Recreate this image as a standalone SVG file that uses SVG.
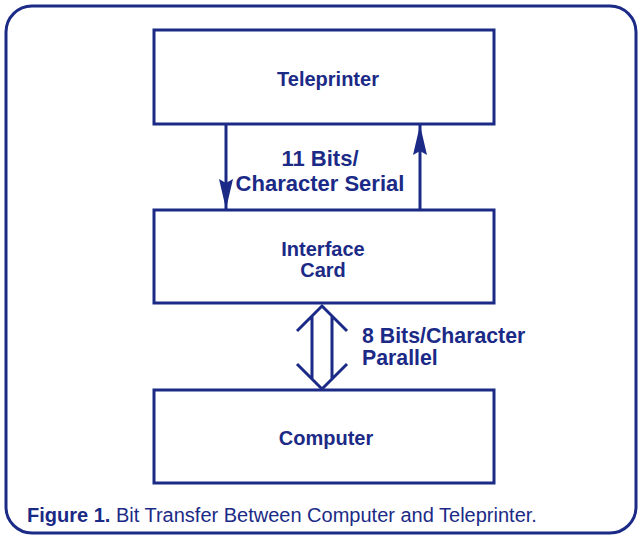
<svg xmlns="http://www.w3.org/2000/svg" width="640" height="537" viewBox="0 0 640 537">
<style>
.b{fill:#fff;stroke:#1b2a86;stroke-width:3}
.t{font-family:"Liberation Sans",Arial,sans-serif;font-weight:bold;font-size:20px;fill:#1b2a86}
.t2{font-size:22px}
.t3{font-size:21.3px}
.c{font-family:"Liberation Sans",Arial,sans-serif;font-size:20px;fill:#1b2a86}
.l{fill:none;stroke:#1b2a86;stroke-width:3}
</style>
<defs>
<marker id="ah" viewBox="0 0 30 14" refX="30" refY="7" markerWidth="30" markerHeight="14" markerUnits="userSpaceOnUse" orient="auto">
<path d="M0,0 L30,7 L0,14 L4,7 Z" fill="#1b2a86"/>
</marker>
</defs>
<rect width="640" height="537" fill="#fff"/>
<rect x="6" y="6" width="630" height="527" rx="26" class="l"/>
<g id="teleprinter"><rect x="154" y="30" width="340" height="94" class="b"/><text x="328" y="86" text-anchor="middle" class="t">Teleprinter</text></g>
<g id="interface"><rect x="154" y="210" width="340" height="93" class="b"/><text x="323" y="256" text-anchor="middle" class="t">Interface</text><text x="323" y="277" text-anchor="middle" class="t">Card</text></g>
<g id="computer"><rect x="154" y="390" width="340" height="93" class="b"/><text x="326" y="445" text-anchor="middle" class="t">Computer</text></g>
<g id="connectors">
<line x1="226" y1="125" x2="226" y2="209" class="l" marker-end="url(#ah)"/>
<line x1="420" y1="209" x2="420" y2="125" class="l" marker-end="url(#ah)"/>
<path d="M297,331 L322,306 L347,331 M312,316 V379 M332,316 V379 M297,364 L322,389 L347,364" class="l"/>
<text x="320" y="166" text-anchor="middle" class="t t2">11 Bits/</text>
<text x="320" y="191" text-anchor="middle" class="t t2">Character Serial</text>
<text x="362" y="343" class="t t3">8 Bits/Character</text>
<text x="362" y="365" class="t t3">Parallel</text>
</g>
<text x="27" y="522" class="c"><tspan font-weight="bold">Figure 1.</tspan> Bit Transfer Between Computer and Teleprinter.</text>
</svg>
